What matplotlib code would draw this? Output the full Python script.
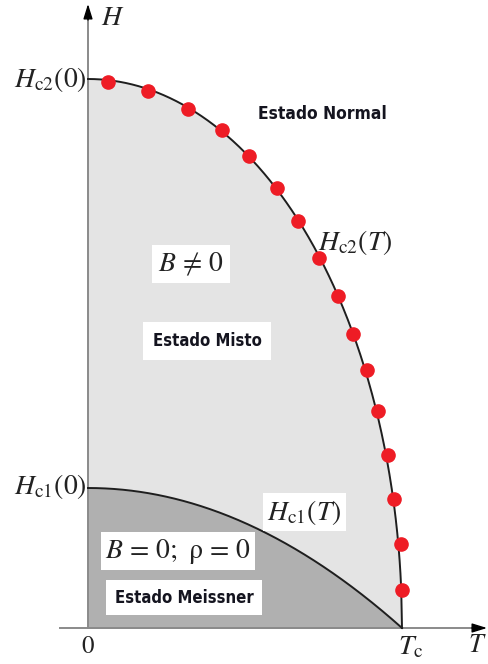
import numpy as np
import matplotlib
matplotlib.use("Agg")
from matplotlib import pyplot as plt

plt.rcParams['mathtext.fontset'] = 'stix'
plt.rcParams['font.family'] = ['STIXGeneral', 'DejaVu Serif']

# critical fields (normalised to Hc2(0) and Tc)
Tc = 1.0
Hc2_0 = 1.0
Hc1_0 = 0.255

# measured points on the Hc2(T) line
t_pts = [0.064, 0.191, 0.318, 0.427, 0.513, 0.602, 0.669, 0.736,
         0.796, 0.844, 0.889, 0.924, 0.955, 0.975, 0.997, 1.0]
h_pts = [0.995, 0.978, 0.945, 0.907, 0.860, 0.801, 0.741, 0.674,
         0.605, 0.536, 0.470, 0.395, 0.315, 0.235, 0.153, 0.069]

# state labels
label_normal = 'Estado Normal'
label_mixed = 'Estado Misto'
label_meissner = 'Estado Meissner'

# pixel scale of the drawing: 314 px per Tc, 549 px per Hc2(0)
SX, SY = 314.0, 549.0
W, H = 488, 664
X0, Y0 = 88, 628  # origin in pixels (from top-left)

fig = plt.figure(figsize=(W / 100, H / 100), dpi=100)
ax = fig.add_axes([0, 0, 1, 1])
ax.set_xlim(-X0 / SX, (W - X0) / SX)
ax.set_ylim(-(H - Y0) / SY, Y0 / SY)
ax.axis('off')

T = np.linspace(0, Tc, 400)
hc2 = Hc2_0 * np.sqrt(np.clip(1 - (T / Tc) ** 2, 0, None))
hc1 = Hc1_0 * (1 - (T / Tc) ** 2)

# regions
ax.fill_between(T, 0, hc2, color='#e4e4e4', lw=0, zorder=1)
ax.fill_between(T, 0, hc1, color='#b0b0b0', lw=0, zorder=2)

# phase boundaries
ax.plot(T, hc2, color='#1e1e1e', lw=1.4, zorder=4)
ax.plot(T, hc1, color='#1e1e1e', lw=1.4, zorder=4)

# axes with arrows
axc = '#8a8a8a'
ax.plot([-28 / SX, (480 - X0) / SX], [0, 0], color=axc, lw=1.4, zorder=3)
ax.plot([0, 0], [0, (Y0 - 14) / SY], color=axc, lw=1.4, zorder=3)
arr = dict(arrowstyle='-|>,head_length=0.9,head_width=0.28', color='black', lw=1.0,
           shrinkA=0, shrinkB=0)
ax.annotate('', xy=((487 - X0) / SX, 0), xytext=((472 - X0) / SX, 0), arrowprops=arr, zorder=5)
ax.annotate('', xy=(0, (Y0 - 4) / SY), xytext=(0, (Y0 - 20) / SY), arrowprops=arr, zorder=5)

# measured points
ax.plot(t_pts, h_pts, 'o', color='#ee1c25', ms=9.5, mec='#ee1c25', zorder=6)

tc = '#222222'
# axis labels
ax.text(0.080, 1.111, r'$H$', fontsize=20, ha='center', va='center', color=tc)
ax.text(1.240, -0.033, r'$T$', fontsize=19, ha='center', va='center', color=tc)
ax.text(0, -0.034, '0', fontsize=18, ha='center', va='center', color=tc)
ax.text(1.027, -0.036, r'$T_{\mathrm{c}}$', fontsize=20, ha='center', va='center', color=tc)
ax.text(-0.004, Hc2_0, r'$H_{\mathrm{c2}}(0)$', fontsize=20, ha='right', va='center', color=tc)
ax.text(-0.004, Hc1_0 + 0.003, r'$H_{\mathrm{c1}}(0)$', fontsize=20, ha='right', va='center', color=tc)

box = dict(boxstyle='square,pad=0.15', fc='white', ec='none')
ax.text(0.852, 0.703, r'$H_{\mathrm{c2}}(T)$', fontsize=20, ha='center', va='center',
        color=tc, zorder=7)
ax.text(0.689, 0.211, r'$H_{\mathrm{c1}}(T)$', fontsize=20, ha='center', va='center',
        color=tc, bbox=box, zorder=7)
ax.text(0.328, 0.663, r'$B\,\neq\,0$', fontsize=20, ha='center', va='center',
        color=tc, bbox=dict(boxstyle='square,pad=0.2', fc='white', ec='none'), zorder=7)
ax.text(0.287, 0.140, r'$B\,=\,0;\ \mathrm{\rho}\,=\,0$', fontsize=20, ha='center', va='center',
        color=tc, bbox=box, zorder=7)

# state names
sans = dict(family=['DejaVu Sans'], fontweight='bold',
            fontstretch='condensed', color='#14141f', ha='center', va='center', zorder=7)
ax.text(0.748, 0.936, label_normal, fontsize=12.5, **sans)
ax.text(0.379, 0.523, label_mixed, fontsize=12,
        bbox=dict(boxstyle='square,pad=0.6', fc='white', ec='none'), **sans)
ax.text(0.306, 0.055, label_meissner, fontsize=12,
        bbox=dict(boxstyle='square,pad=0.5', fc='white', ec='none'), **sans)

fig.savefig('out.png', dpi=100)
